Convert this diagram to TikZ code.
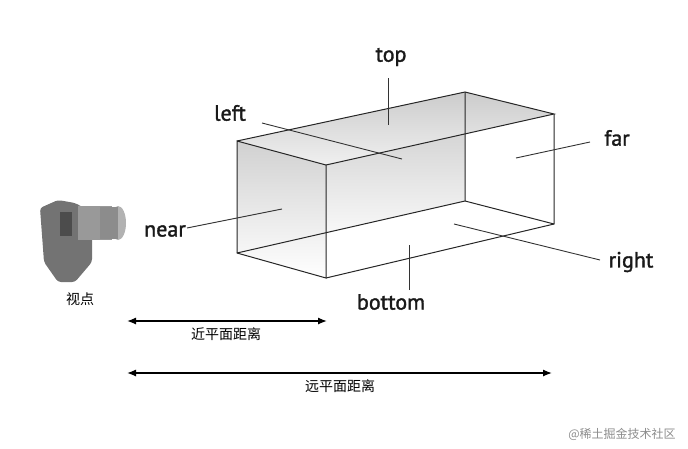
\documentclass[tikz,border=0pt]{standalone}
\usepackage{fontspec}
\setmainfont{PT Sans}[FakeBold=1.5]
\newfontfamily\cjk{Noto Sans CJK SC}
\usetikzlibrary{arrows.meta}
\begin{document}
\begin{tikzpicture}[x=1pt,y=-1pt,
  lbl/.style={font=\fontsize{22}{24}\selectfont, inner sep=0pt, black!90},
  clbl/.style={font=\cjk\fontsize{14}{16}\selectfont, inner sep=0pt},
  edge/.style={line width=1pt, black!85},
  lead/.style={line width=0.9pt, black!80},
  dist/.style={line width=1.3pt, {Latex[length=9pt,width=7pt]}-{Latex[length=9pt,width=7pt]}}]
\useasboundingbox (0,0) rectangle (688,448);
\coordinate (A) at (237,141); \coordinate (B) at (326,165);
\coordinate (C) at (326,278); \coordinate (D) at (237,253);
\coordinate (E) at (465,92);  \coordinate (F) at (554,114);
\coordinate (G) at (554,224); \coordinate (H) at (465,201);
% shaded faces
\shade[top color=black!22, bottom color=white] (A) -- (E) -- (H) -- (D) -- cycle;
\shade[top color=black!18, bottom color=white] (A) -- (B) -- (C) -- (D) -- cycle;
\shade[top color=black!20, bottom color=black!6] (A) -- (E) -- (F) -- (B) -- cycle;
% edges
\draw[edge] (A) -- (B) -- (C) -- (D) -- cycle;
\draw[edge] (A) -- (E) -- (F) -- (B);
\draw[edge] (F) -- (G) -- (C);
\draw[edge] (E) -- (H) -- (G);
\draw[edge] (H) -- (D);
% labels
\node[lbl] (top) at (391,57) {top};
\node[lbl] (left) at (230,113) {left};
\node[lbl] (far) at (617,138) {far};
\node[lbl] (near) at (165,231) {near};
\node[lbl] (right) at (631,262) {right};
\node[lbl] (bottom) at (391,302) {bottom};
\coordinate (ttop) at (388,125); \coordinate (tleft) at (402,159);
\coordinate (tfar) at (516,158); \coordinate (tnear) at (282,209);
\coordinate (tright) at (454,224); \coordinate (tbottom) at (409,245);
\draw[lead] (388,78) -- (ttop);
\draw[lead] (262,123) -- (tleft);
\draw[lead] (590,142) -- (tfar);
\draw[lead] (187,228) -- (tnear);
\draw[lead] (600,260) -- (tright);
\draw[lead] (409,290) -- (tbottom);
% camera
\begin{scope}
\fill[black!55, rounded corners=3pt] (40,208) -- (58,200) -- (75,203) -- (92,212) -- (92,262) -- (75,282) -- (58,282) -- (44,262) -- cycle;
\fill[black!40] (78,206) rectangle (112,240);
\fill[black!30] (118,223) ellipse (8 and 17);
\fill[black!45] (100,207) rectangle (118,239);
\fill[black!70] (60,212) rectangle (72,236);
\end{scope}
\node[clbl] (vp) at (80,299) {视点};
% distances
\coordinate (s1) at (127,321); \coordinate (e1) at (327,321);
\coordinate (s2) at (127,373); \coordinate (e2) at (552,373);
\draw[dist] (s1) -- (e1);
\draw[dist] (s2) -- (e2);
\node[clbl] (nd) at (226,334) {近平面距离};
\node[clbl] (fd) at (340,386) {远平面距离};
\node[inner sep=0pt, black!45, font=\cjk\fontsize{12}{14}\selectfont] (wm) at (622,434) {@稀土掘金技术社区};
\end{tikzpicture}
\end{document}
